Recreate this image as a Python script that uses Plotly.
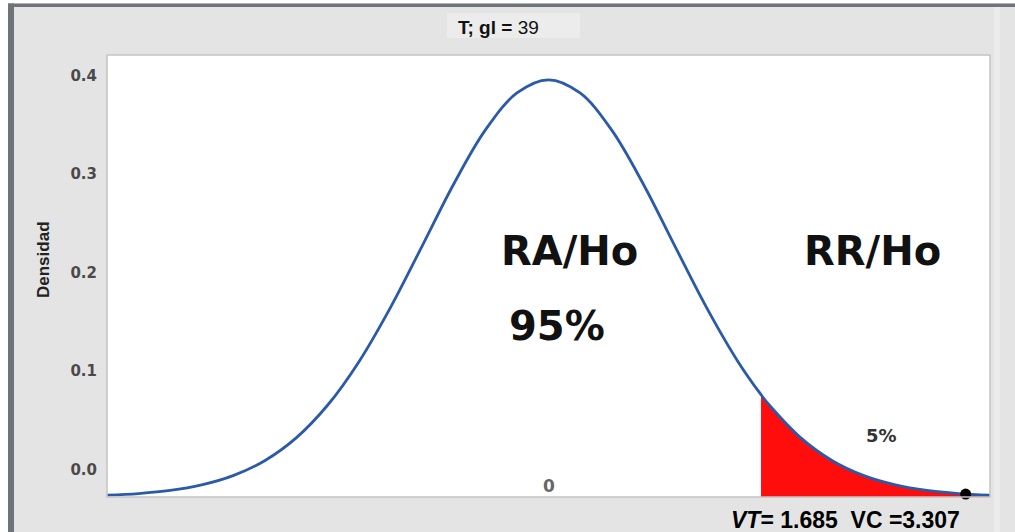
import plotly.graph_objects as go

# t distribution, 39 degrees of freedom
t_values = [-3.5, -3.25, -3.0, -2.75, -2.5, -2.25, -2.0, -1.75, -1.5, -1.25, -1.0, -0.75,
            -0.5, -0.25, 0.0, 0.25, 0.5, 0.75, 1.0, 1.25, 1.5, 1.685, 1.75, 2.0, 2.25,
            2.5, 2.75, 3.0, 3.25, 3.5]
density = [0.0017, 0.0033, 0.0062, 0.0115, 0.0203, 0.0345, 0.0562, 0.0874, 0.1291, 0.1807,
           0.2389, 0.2977, 0.3488, 0.3839, 0.3964, 0.3839, 0.3488, 0.2977, 0.2389, 0.1807,
           0.1291, 0.0972, 0.0874, 0.0562, 0.0345, 0.0203, 0.0115, 0.0062, 0.0033, 0.0017]
vt_value = 1.685          # valor de tabla
vc_value = 3.307          # valor calculado
vc_density = 0.0028
y_tick_labels = ["0.0", "0.1", "0.2", "0.3", "0.4"]
title_text = "<b>T; gl =</b> 39"

tail_x = [x for x in t_values if x >= vt_value]
tail_y = [d for x, d in zip(t_values, density) if x >= vt_value]

# plot-area pixel geometry helpers (layout only)
L, R, T, B = 107, 990, 55, 497
W, H = 1015, 532
def px(xp):
    return (xp - L) / (R - L)
def py(yp):
    return (B - yp) / (B - T)

fig = go.Figure()
fig.add_trace(go.Scatter(x=tail_x, y=tail_y, mode="lines", fill="tozeroy",
                         fillcolor="#ff0d0d", line=dict(color="#ff0d0d", width=0.5, shape="spline"),
                         hoverinfo="skip", showlegend=False))
fig.add_trace(go.Scatter(x=t_values, y=density, mode="lines",
                         line=dict(color="#2a5aa8", width=2.8, shape="spline"),
                         showlegend=False, cliponaxis=False))
fig.add_trace(go.Scatter(x=[vc_value], y=[vc_density], mode="markers",
                         marker=dict(color="black", size=11), showlegend=False, cliponaxis=False))

# y tick label pixel rows (the labels sit offset from the true ticks in the reference)
label_rows = [470, 371, 273, 174, 76]
ymax = 0.42
tickvals = [(B - r) / (B - T) * ymax for r in label_rows]

fig.update_xaxes(range=[-3.5, 3.5], showgrid=False, zeroline=False, showticklabels=False,
                 ticks="", showline=False)
fig.update_yaxes(range=[0, ymax], showgrid=False, zeroline=False, tickvals=tickvals,
                 ticktext=y_tick_labels, ticks="outside", ticklen=6, tickcolor="rgba(0,0,0,0)",
                 tickfont=dict(family="DejaVu Sans", size=15, color="#4a4a4a", weight="bold"),
                 showline=False)

shapes = [
    # white strip at top and left
    dict(type="rect", xref="paper", yref="paper", x0=px(-5), x1=px(W + 5), y0=py(3.5), y1=py(-5),
         fillcolor="white", line=dict(width=0), layer="below"),
    dict(type="rect", xref="paper", yref="paper", x0=px(-5), x1=px(8), y0=py(H + 5), y1=py(-5),
         fillcolor="white", line=dict(width=0), layer="below"),
    # dark frame lines
    dict(type="rect", xref="paper", yref="paper", x0=px(8), x1=px(W + 5), y0=py(7), y1=py(3.5),
         fillcolor="#6e757a", line=dict(width=0), layer="below"),
    dict(type="rect", xref="paper", yref="paper", x0=px(8), x1=px(14), y0=py(H + 5), y1=py(3.5),
         fillcolor="#6e757a", line=dict(width=0), layer="below"),
    # faint right band
    dict(type="rect", xref="paper", yref="paper", x0=px(994), x1=px(1000), y0=py(H + 5), y1=py(7),
         fillcolor="#ebebeb", line=dict(width=0), layer="below"),
    # title box
    dict(type="rect", xref="paper", yref="paper", x0=px(447), x1=px(580), y0=py(38), y1=py(13),
         fillcolor="#ececec", line=dict(width=0), layer="below"),
    # plot frame
    dict(type="rect", xref="paper", yref="paper", x0=0, x1=1, y0=0, y1=1,
         line=dict(color="#c4c4c4", width=1.5), layer="above"),
]

def ann(text, x, y, font, xref="paper", **kw):
    return dict(text=text, x=x, y=y, xref=xref, yref="paper", showarrow=False,
                xanchor="center", yanchor="middle", font=font, **kw)

big = dict(family="DejaVu Sans", size=40, color="#111111", weight="bold")
annotations = [
    ann(title_text, px(498), py(28), dict(family="Liberation Sans", size=19, color="#111111")),
    ann("Densidad", px(43), py(260), dict(family="Liberation Sans", size=17, color="#222222",
                                          weight="bold"), textangle=-90),
    ann("RA/Ho", px(569), py(251), big),
    ann("95%", px(557), py(326), big),
    ann("RR/Ho", px(872), py(251), big),
    ann("5%", px(881), py(435), dict(family="DejaVu Sans", size=18, color="#333333", weight="bold")),
    ann("0", 0, py(486), dict(family="DejaVu Sans", size=17, color="#666666", weight="bold"),
        xref="x"),
    ann(f"<i>VT</i>= {vt_value}  VC =<span>{vc_value}</span>", px(845), py(520),
        dict(family="Liberation Sans", size=23, color="#000000", weight="bold")),
]

fig.update_layout(width=W, height=H, margin=dict(l=L, r=W - R, t=T, b=H - B),
                  paper_bgcolor="#e4e4e4", plot_bgcolor="white",
                  shapes=shapes, annotations=annotations, showlegend=False)

fig.write_html("out.html", config={"displayModeBar": False},
               post_script="document.body.style.margin='0px';document.body.style.overflow='hidden';")
